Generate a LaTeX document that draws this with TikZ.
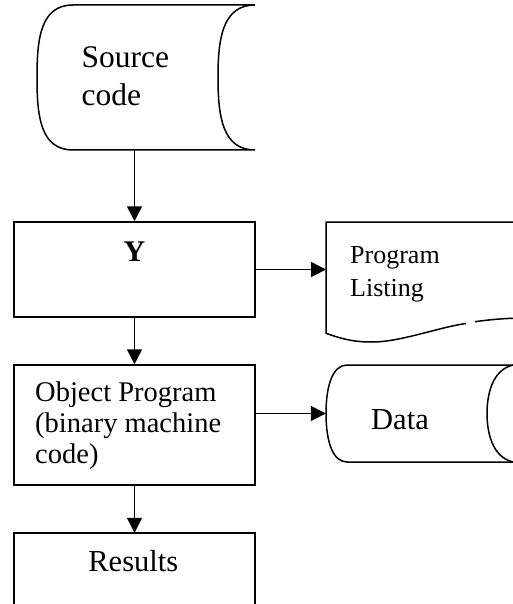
\documentclass[tikz,border=0pt]{standalone}
\usepackage{fontspec}
\setmainfont{Liberation Serif}
\usetikzlibrary{arrows.meta}
\begin{document}
\begin{tikzpicture}[x=1pt,y=1pt,
		every node/.style={inner sep=0pt},
		shp/.style={line width=1.5pt},
		box/.style={shp,draw,minimum width=241pt},
		arr/.style={-{Triangle[length=15pt,width=15pt]},line width=1.5pt},
		txt/.style={font=\fontsize{30.5}{38}\selectfont}]
	\useasboundingbox (0,0) rectangle (513,-604);
	\draw[shp] (73,-5) -- (255,-5) .. controls (222,-5) and (218,-40) .. (218,-77.5)
		.. controls (218,-115) and (222,-150) .. (255,-150) -- (73,-150)
		.. controls (40,-150) and (37,-115) .. (37,-77.5) .. controls (37,-40) and (40,-5) .. cycle;
	\node[minimum width=218pt,minimum height=145pt] (src) at (146,-77.5) {};
	\node[align=left,anchor=base west,font=\fontsize{31.5}{38.7}\selectfont] (srctxt) at (81.5,-106) {Source\\code};
	\node[box,minimum height=95pt] (proc) at (134.5,-269.5) {};
	\node[font=\bfseries\fontsize{30}{36}\selectfont,anchor=base] (proctxt) at (134.5,-261.7) {Y};
	\node[box,minimum height=120pt] (obj) at (134.5,-425) {};
	\node[align=left,anchor=base west,font=\fontsize{28.5}{31}\selectfont] (objtxt) at (35,-463) {Object Program\\(binary machine\\code)};
	\node[minimum width=241pt,minimum height=71pt] (res) at (134.5,-568.5) {};
	\draw[shp] (res.south west) -- (res.north west) -- (res.north east) -- (res.south east);
	\node[txt,anchor=base] (restxt) at (133.3,-571.7) {Results};
	\node[minimum width=187pt,minimum height=111pt,anchor=north west] (list) at (326,-222) {};
	\draw[shp] (513,-222) -- (326,-222) -- (326,-333.3) .. controls (345,-340) and (355,-342) .. (373,-342)
		.. controls (400,-342) and (440,-327) .. (466,-323.5);
	\draw[shp] (475,-321.7) .. controls (490,-319.5) and (505,-318.5) .. (513,-318.3);
	\node[align=left,anchor=base west,font=\fontsize{26}{33.4}\selectfont] (listtxt) at (350,-296.7) {Program\\Listing};
	\draw[shp] (513,-365) -- (347,-365) .. controls (333,-365) and (326,-385) .. (326,-413.5)
		.. controls (326,-442) and (333,-462) .. (347,-462) -- (513,-462);
	\draw[shp] (513,-365) .. controls (492,-370) and (487,-395) .. (487,-413.5)
		.. controls (487,-432) and (492,-457) .. (513,-462);
	\node[minimum width=187pt,minimum height=97pt] (data) at (419.5,-413.5) {};
	\node[txt,anchor=base] (datatxt) at (400,-429) {Data};
	\draw[arr] (src.south -| proc.north) -- (proc.north);
	\draw[arr] (proc.east) -- (proc.east -| list.west);
	\draw[arr] (proc.south) -- (obj.north);
	\draw[arr] (data.west -| obj.east) -- (data.west);
	\draw[arr] (obj.south) -- (res.north);
\end{tikzpicture}
\end{document}
